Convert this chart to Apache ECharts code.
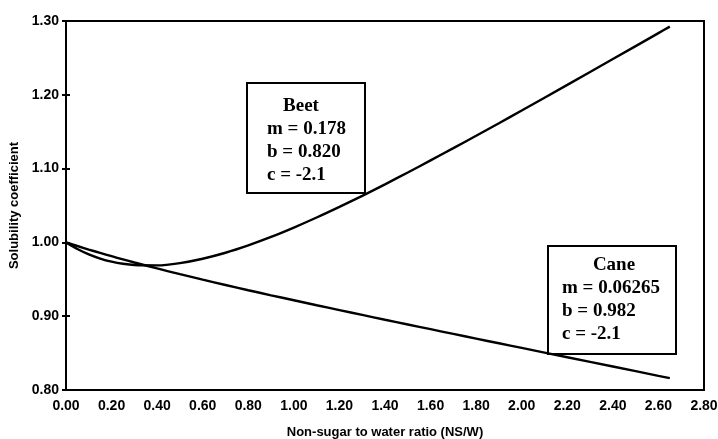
<!DOCTYPE html>
<html>
<head>
<meta charset="utf-8">
<script src="https://cdn.jsdelivr.net/npm/echarts@6/dist/echarts.min.js"></script>
<style>html,body{margin:0;padding:0;background:#fff;}#c{width:718px;height:439px;}</style>
</head>
<body>
<div id="c"></div>
<script>
var nsw = [0, 0.05, 0.1, 0.15, 0.2, 0.25, 0.3, 0.4, 0.5, 0.6, 0.7, 0.8, 0.9, 1.0, 1.1, 1.2, 1.3, 1.4, 1.5, 1.6, 1.7, 1.8, 1.9, 2.0, 2.2, 2.4, 2.6, 2.65];
var beet = [1.0, 0.991, 0.9837, 0.9781, 0.9739, 0.971, 0.9693, 0.9689, 0.972, 0.9779, 0.986, 0.996, 1.0074, 1.0201, 1.0337, 1.0481, 1.0631, 1.0787, 1.0947, 1.1111, 1.1277, 1.1445, 1.1615, 1.1787, 1.2134, 1.2484, 1.2836, 1.2924];
var cane = [1.0, 0.9951, 0.9903, 0.9857, 0.9813, 0.977, 0.9728, 0.9647, 0.957, 0.9495, 0.9423, 0.9352, 0.9283, 0.9216, 0.9149, 0.9083, 0.9017, 0.8952, 0.8888, 0.8824, 0.876, 0.8696, 0.8633, 0.857, 0.8444, 0.8318, 0.8192, 0.8161];
var beetBox = ['Beet', 'm = 0.178', 'b = 0.820', 'c = -2.1'];
var caneBox = ['Cane', 'm = 0.06265', 'b = 0.982', 'c = -2.1'];

function pairs(xs, ys) { return xs.map(function (x, i) { return [x, ys[i]]; }); }

var chart = echarts.init(document.getElementById('c'));
var axisFont = { fontFamily: 'Liberation Sans, Arial', fontWeight: 'bold', fontSize: 14, color: '#000' };
var boxFont = 'bold 19px "Liberation Serif", "Times New Roman", serif';

function box(lines, x, y, w, h, titleX, textX, firstY, step) {
  var children = [{
    type: 'rect', shape: { x: x, y: y, width: w, height: h },
    style: { fill: '#fff', stroke: '#000', lineWidth: 2 }
  }];
  lines.forEach(function (t, i) {
    children.push({
      type: 'text',
      style: {
        text: t, x: i === 0 ? titleX : textX, y: firstY + i * step,
        font: boxFont, fill: '#000',
        align: i === 0 ? 'center' : 'left', verticalAlign: 'middle'
      }
    });
  });
  return { type: 'group', z: 100, children: children };
}

chart.setOption({
  animation: false,
  backgroundColor: '#fff',
  grid: { left: 66, right: 14, top: 21, bottom: 49, outerBoundsMode: 'none', containLabel: false, show: true, borderColor: '#000', borderWidth: 2, backgroundColor: 'transparent' },
  xAxis: {
    type: 'value', min: 0, max: 2.8, interval: 0.2,
    name: 'Non-sugar to water ratio (NS/W)', nameLocation: 'middle', nameGap: 36,
    nameTextStyle: { fontFamily: 'Liberation Sans, Arial', fontWeight: 'bold', fontSize: 13, color: '#000' },
    axisLine: { lineStyle: { color: '#000', width: 2 } },
    axisTick: { show: false },
    splitLine: { show: false },
    axisLabel: Object.assign({ margin: 9, formatter: function (v) { return v.toFixed(2); } }, axisFont)
  },
  yAxis: [{
    type: 'value', min: 0.8, max: 1.3, interval: 0.1,
    name: 'Solubility coefficient', nameLocation: 'middle', nameGap: 39,
    nameTextStyle: { fontFamily: 'Liberation Sans, Arial', fontWeight: 'bold', fontSize: 13, color: '#000' },
    axisLine: { lineStyle: { color: '#000', width: 2 } },
    axisTick: { show: true, length: 4, lineStyle: { color: '#000', width: 2 } },
    splitLine: { show: false },
    axisLabel: Object.assign({ margin: 7, formatter: function (v) { return v.toFixed(2); } }, axisFont)
  }, {
    type: 'value', min: 0.8, max: 1.3, interval: 0.1, position: 'left',
    axisLine: { show: false },
    axisTick: { show: true, inside: true, length: 4, lineStyle: { color: '#000', width: 2 } },
    axisLabel: { show: false },
    splitLine: { show: false }
  }],
  series: [
    { name: 'Beet', type: 'line', data: pairs(nsw, beet), smooth: 0.3, showSymbol: false, lineStyle: { color: '#000', width: 2.4 } },
    { name: 'Cane', type: 'line', data: pairs(nsw, cane), smooth: 0.3, showSymbol: false, lineStyle: { color: '#000', width: 2.4 } }
  ],
  graphic: [
    box(beetBox, 247, 83, 118, 110, 301, 267, 106, 23),
    box(caneBox, 548, 246, 128, 108, 614, 562, 265, 23)
  ]
});
</script>
</body>
</html>
